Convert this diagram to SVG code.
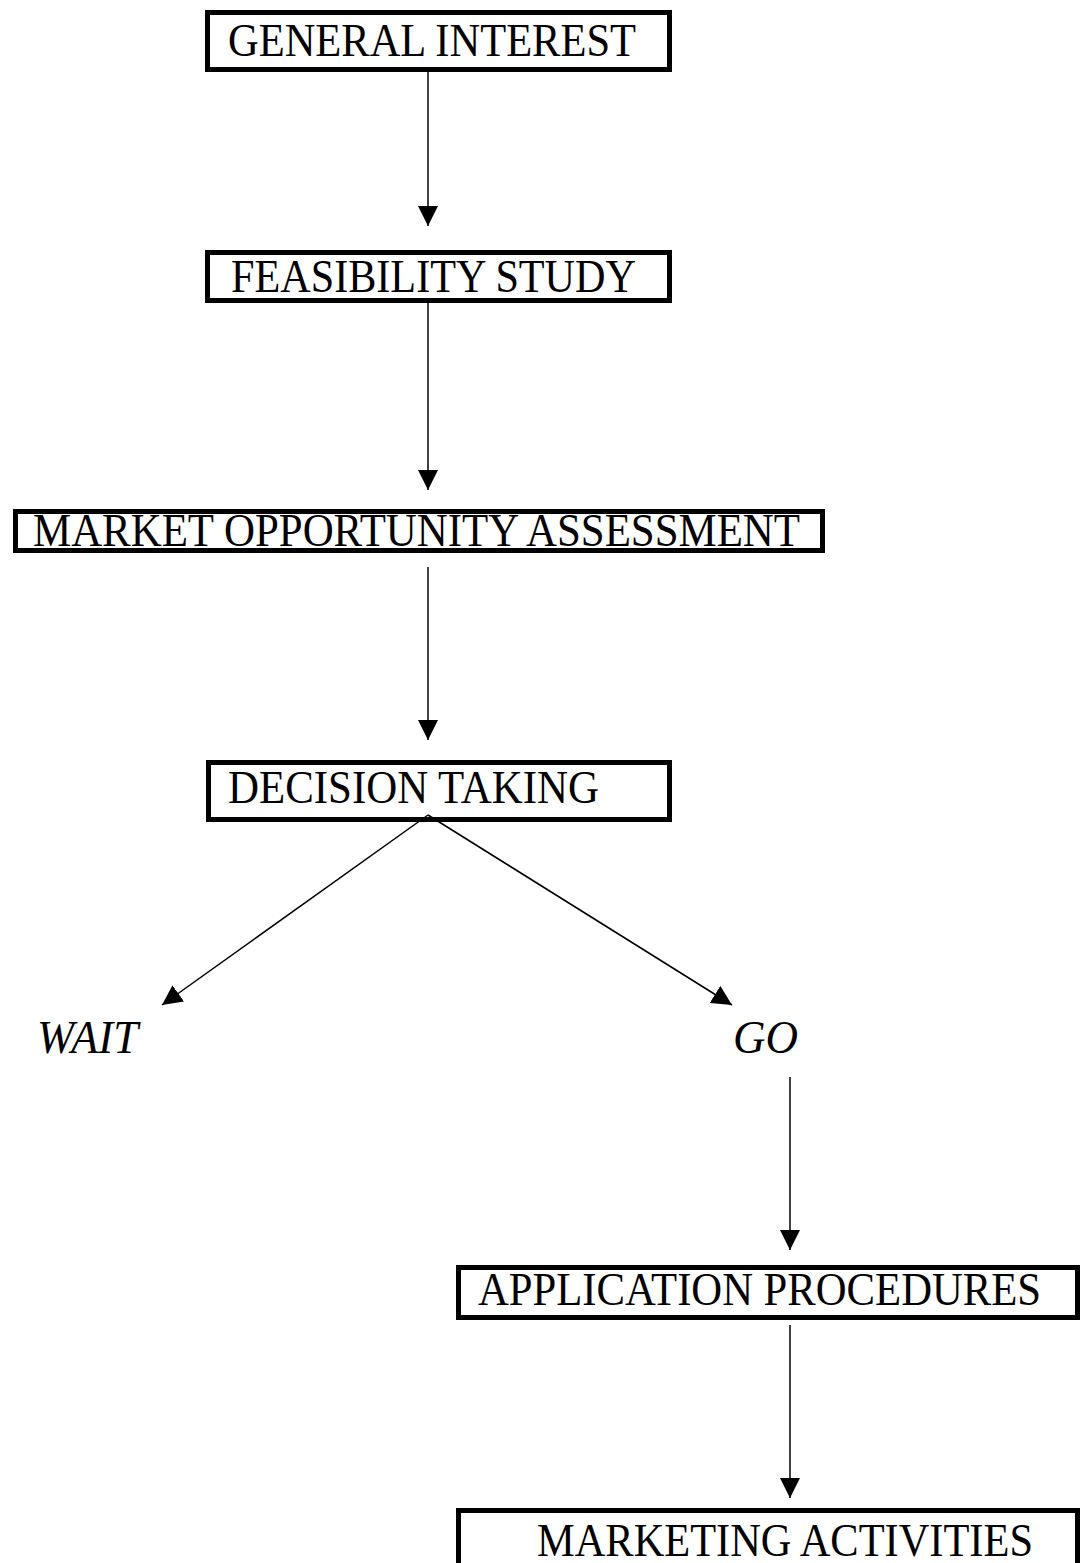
<svg xmlns="http://www.w3.org/2000/svg" width="1082" height="1563" viewBox="0 0 1082 1563">
<style>
.box{fill:#fff;stroke:#000;stroke-width:5}
.lbl{font-family:"Liberation Serif","Times New Roman",serif;font-size:46px;fill:#000}
.it{font-style:italic}
.conn{stroke:#000;stroke-width:1.5;fill:none;marker-end:url(#ah)}
</style>
<defs>
<marker id="ah" markerUnits="userSpaceOnUse" markerWidth="20" markerHeight="20" viewBox="0 0 18 18" refX="18" refY="9" orient="auto">
<path d="M0,0 L18,9 L0,18 Z" fill="#000"/>
</marker>
</defs>
<rect width="1082" height="1563" fill="#fff"/>
<g id="general-interest">
<rect class="box" x="207.5" y="12.5" width="462" height="57"/>
<text class="lbl" x="228" y="56" textLength="408" lengthAdjust="spacingAndGlyphs">GENERAL INTEREST</text>
</g>
<g id="feasibility-study">
<rect class="box" x="207.5" y="252.5" width="462" height="48"/>
<text class="lbl" x="231" y="292" textLength="405" lengthAdjust="spacingAndGlyphs">FEASIBILITY STUDY</text>
</g>
<g id="market-opportunity-assessment">
<rect class="box" x="15.5" y="511.5" width="807" height="39"/>
<text class="lbl" x="33" y="546" textLength="767" lengthAdjust="spacingAndGlyphs">MARKET OPPORTUNITY ASSESSMENT</text>
</g>
<g id="decision-taking">
<rect class="box" x="208.5" y="762.5" width="461" height="57"/>
<text class="lbl" x="228" y="803" textLength="371" lengthAdjust="spacingAndGlyphs">DECISION TAKING</text>
</g>
<g id="wait">
<text class="lbl it" x="37" y="1053" textLength="101" lengthAdjust="spacingAndGlyphs">WAIT</text>
</g>
<g id="go">
<text class="lbl it" x="733" y="1053" textLength="65" lengthAdjust="spacingAndGlyphs">GO</text>
</g>
<g id="application-procedures">
<rect class="box" x="458.5" y="1267.5" width="619" height="50"/>
<text class="lbl" x="478" y="1305" textLength="563" lengthAdjust="spacingAndGlyphs">APPLICATION PROCEDURES</text>
</g>
<g id="marketing-activities">
<rect class="box" x="458.5" y="1510.5" width="619" height="80"/>
<text class="lbl" x="537" y="1556" textLength="496" lengthAdjust="spacingAndGlyphs">MARKETING ACTIVITIES</text>
</g>
<g id="connectors">
<line class="conn" x1="428" y1="72" x2="428" y2="226"/>
<line class="conn" x1="428" y1="303" x2="428" y2="490"/>
<line class="conn" x1="428" y1="567" x2="428" y2="740"/>
<line class="conn" x1="428" y1="815" x2="162" y2="1005"/>
<line class="conn" x1="428" y1="815" x2="732" y2="1005"/>
<line class="conn" x1="790" y1="1077" x2="790" y2="1250"/>
<line class="conn" x1="790" y1="1325" x2="790" y2="1498"/>
</g>
</svg>
